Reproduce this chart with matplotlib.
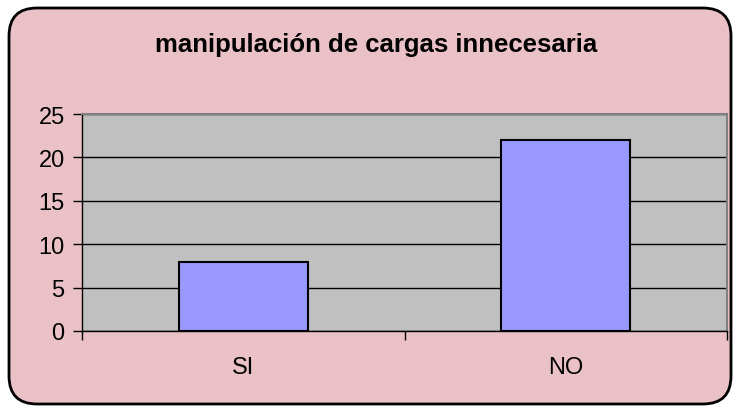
import matplotlib.pyplot as plt
from matplotlib.patches import FancyBboxPatch

# datos del gráfico
categorias = ['SI', 'NO']
valores = [8, 22]
titulo = 'manipulación de cargas innecesaria'
yticks = [0, 5, 10, 15, 20, 25]

W, H = 740, 414
fig = plt.figure(figsize=(W / 100, H / 100), dpi=100, facecolor='white')
plt.rcParams['font.family'] = ['Liberation Sans', 'DejaVu Sans']

# fondo con borde redondeado
r = 28
bg = fig.add_axes([0, 0, 1, 1])
bg.set_xlim(0, W)
bg.set_ylim(H, 0)
bg.axis('off')
caja = FancyBboxPatch((9 + r, 9 + r), W - 18 - 2 * r, H - 18 - 2 * r,
                      boxstyle=f'round,pad={r}', facecolor='#e9c1c6',
                      edgecolor='black', linewidth=2)
bg.add_patch(caja)

# área del gráfico
x0, x1, y0, y1 = 82, 727, 115, 332
ax = fig.add_axes([x0 / W, 1 - y1 / H, (x1 - x0) / W, (y1 - y0) / H])
ax.set_facecolor('#c0c0c0')

pos = range(len(categorias))
ax.bar(pos, valores, width=0.4, color='#9999ff', edgecolor='black',
       linewidth=1.5, zorder=3)
ax.set_xlim(-0.5, len(categorias) - 0.5)
ax.set_ylim(0, 25)
ax.set_yticks(yticks)
ax.set_yticklabels([str(v) for v in yticks], fontsize=17)
ax.yaxis.grid(True, color='black', linewidth=1, zorder=1)
ax.set_axisbelow(True)

ax.set_xticks([-0.5, 0.5, 1.5])
ax.set_xticklabels([])
ax.set_xticks(list(pos), minor=True)
ax.set_xticklabels(categorias, minor=True, fontsize=17)
ax.tick_params(axis='x', which='minor', length=0, pad=18)
ax.tick_params(axis='x', which='major', length=6.5, width=1, direction='out')
ax.tick_params(axis='y', length=6.5, width=1, direction='out', pad=6)

for lado in ['top', 'right']:
    ax.spines[lado].set_color('#808080')
    ax.spines[lado].set_linewidth(1.5)
for lado in ['left', 'bottom']:
    ax.spines[lado].set_color('black')
    ax.spines[lado].set_linewidth(1)

fig.text(376 / W, 1 - 45 / H, titulo, ha='center', va='center',
         fontsize=18.5, fontweight='bold')

plt.savefig('out.png', dpi=100)
